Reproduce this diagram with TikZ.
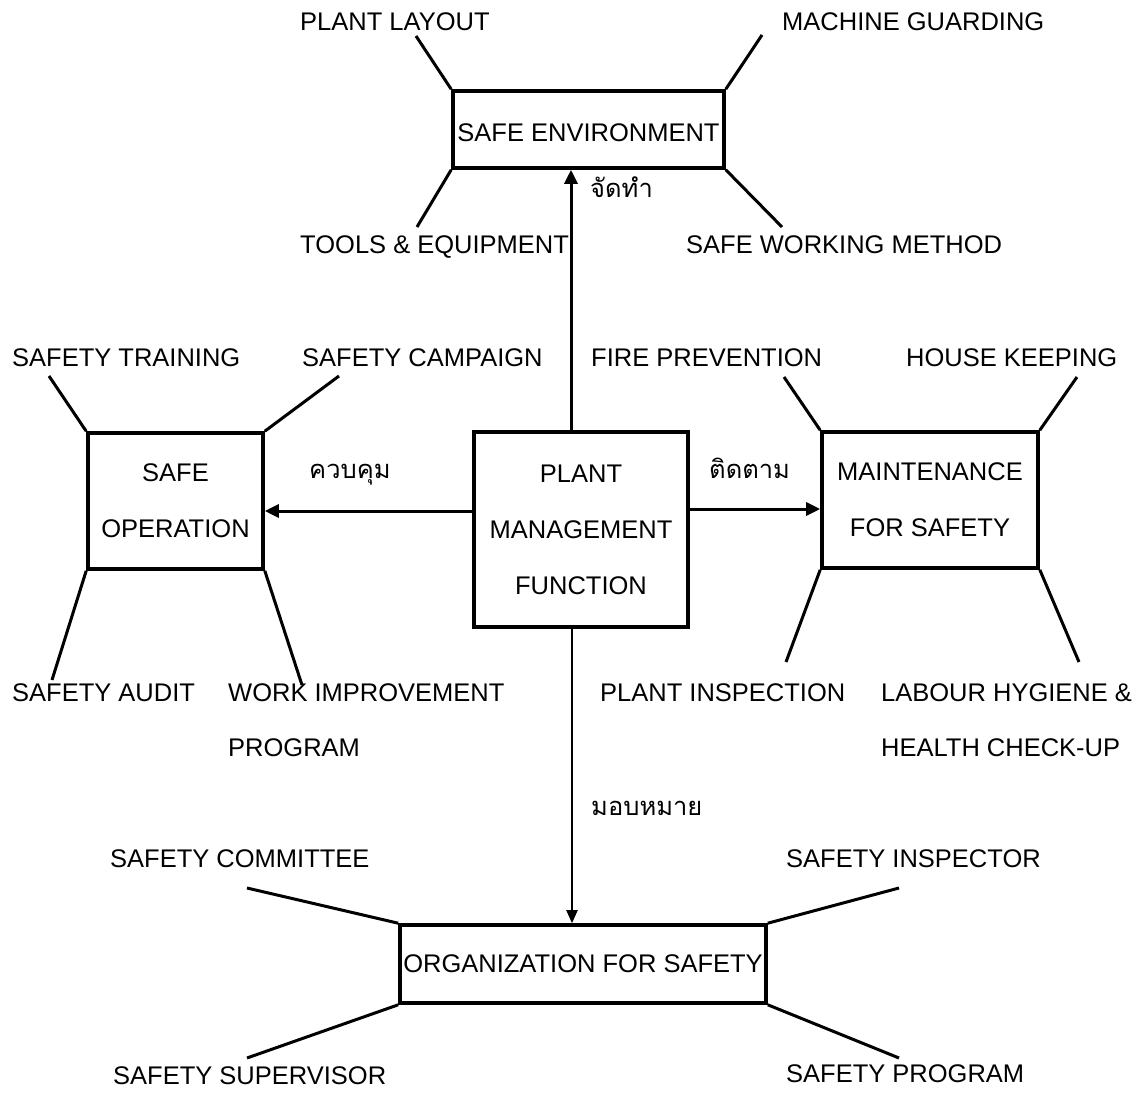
\documentclass[tikz,border=0pt]{standalone}
\usepackage{fontspec}
\setmainfont{Liberation Sans}
\newfontfamily\thaifont[Script=Thai]{Loma}
\usetikzlibrary{arrows.meta}
\begin{document}
\begin{tikzpicture}[x=1pt,y=-1pt,
  box/.style={draw,line width=3.6pt,inner sep=0pt,align=center,
    font=\fontsize{25.5}{56}\selectfont},
  lbl/.style={anchor=base west,inner sep=0pt,align=left,
    font=\fontsize{25.5}{55}\selectfont},
  thl/.style={anchor=base west,inner sep=0pt,font=\thaifont\fontsize{25.5}{30}\selectfont},
  spoke/.style={line width=3pt},
  conn/.style={line width=3pt,-{Triangle[length=14pt,width=13pt]}},
  connthin/.style={line width=2.2pt,-{Triangle[length=13pt,width=11pt]}}]
\useasboundingbox (0,0) rectangle (1144,1094);
\fill[white] (0,0) rectangle (1144,1094);

% boxes
\node[box,minimum width=271pt,minimum height=77pt,text height=25pt,text depth=0pt] (se) at (588.5,129.5) {SAFE ENVIRONMENT};
\node[box,minimum width=175pt,minimum height=136pt] (so) at (175.5,501) {SAFE\\OPERATION};
\node[box,minimum width=214pt,minimum height=195pt] (pmf) at (581,529.5) {PLANT\\MANAGEMENT\\FUNCTION};
\node[box,minimum width=216pt,minimum height=136pt] (mf) at (930,500) {MAINTENANCE\\FOR SAFETY};
\node[box,minimum width=366pt,minimum height=78pt] (org) at (583,964) {ORGANIZATION FOR SAFETY};

% labels
\node[lbl] (l1) at (300,31) {PLANT LAYOUT};
\node[lbl] (l2) at (782,31) {MACHINE GUARDING};
\node[lbl] (l3) at (300,254) {TOOLS \& EQUIPMENT};
\node[lbl] (l4) at (686,254) {SAFE WORKING METHOD};
\node[lbl] (l5) at (12,366) {SAFETY TRAINING};
\node[lbl] (l6) at (302,366) {SAFETY CAMPAIGN};
\node[lbl] (l7) at (591,366) {FIRE PREVENTION};
\node[lbl] (l8) at (906,366) {HOUSE KEEPING};
\node[lbl] (l9) at (12,701) {SAFETY AUDIT};
\node[lbl] (l10) at (228,756) {WORK IMPROVEMENT\\PROGRAM};
\node[lbl] (l11) at (600,701) {PLANT INSPECTION};
\node[lbl] (l12) at (881,756) {LABOUR HYGIENE \&\\HEALTH CHECK-UP};
\node[lbl] (l13) at (110,867) {SAFETY COMMITTEE};
\node[lbl] (l14) at (786,867) {SAFETY INSPECTOR};
\node[lbl] (l15) at (113,1084) {SAFETY SUPERVISOR};
\node[lbl] (l16) at (786,1082) {SAFETY PROGRAM};

% thai labels
\node[thl] (t1) at (590,198) {จัดทำ};
\node[thl] (t2) at (309,478) {ควบคุม};
\node[thl] (t3) at (709,478) {ติดตาม};
\node[thl] (t4) at (591,815) {มอบหมาย};

% spoke free ends
\coordinate (se1) at (416,36);
\coordinate (se2) at (762,35);
\coordinate (se3) at (417,227);
\coordinate (se4) at (782,227);
\coordinate (so1) at (49,376);
\coordinate (so2) at (339,376);
\coordinate (so3) at (52,680);
\coordinate (so4) at (302,685);
\coordinate (mf1) at (784,377);
\coordinate (mf2) at (1077,377);
\coordinate (mf3) at (786,662);
\coordinate (mf4) at (1079,662);
\coordinate (or1) at (247,888);
\coordinate (or2) at (899,888);
\coordinate (or3) at (247,1058);
\coordinate (or4) at (899,1058);

\draw[spoke] (se.north west) -- (se1);
\draw[spoke] (se.north east) -- (se2);
\draw[spoke] (se.south west) -- (se3);
\draw[spoke] (se.south east) -- (se4);
\draw[spoke] (so.north west) -- (so1);
\draw[spoke] (so.north east) -- (so2);
\draw[spoke] (so.south west) -- (so3);
\draw[spoke] (so.south east) -- (so4);
\draw[spoke] (mf.north west) -- (mf1);
\draw[spoke] (mf.north east) -- (mf2);
\draw[spoke] (mf.south west) -- (mf3);
\draw[spoke] (mf.south east) -- (mf4);
\draw[spoke] (org.north west) -- (or1);
\draw[spoke] (org.north east) -- (or2);
\draw[spoke] (org.south west) -- (or3);
\draw[spoke] (org.south east) -- (or4);

% connectors
\draw[conn] ([xshift=-10pt]pmf.north) -- ([xshift=-10pt]pmf.north |- se.south);
\draw[conn] ([yshift=18.5pt]pmf.west) -- ([yshift=18.5pt]pmf.west -| so.east);
\draw[conn] ([yshift=20.5pt]pmf.east) -- ([yshift=20.5pt]pmf.east -| mf.west);
\draw[connthin] ([xshift=-9pt]pmf.south) -- ([xshift=-9pt]pmf.south |- org.north);
\end{tikzpicture}
\end{document}
